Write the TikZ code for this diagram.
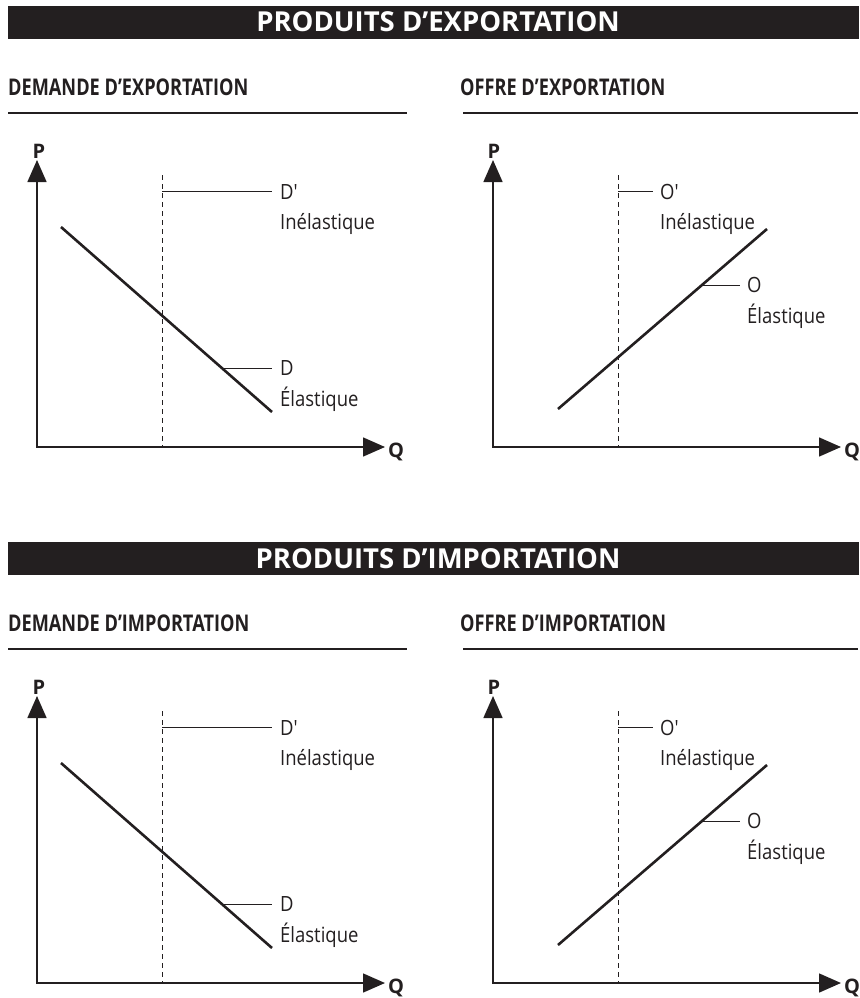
\documentclass[tikz,border=0pt]{standalone}
\usepackage{fontspec}
\setmainfont{Open Sans}
\newfontfamily\headfont[FakeStretch=0.79]{Open Sans}
\newfontfamily\labfont[Ligatures=TeXOff,FakeStretch=0.88]{Open Sans}
\usetikzlibrary{arrows.meta}
\definecolor{ink}{HTML}{231F20}
\begin{document}
\begin{tikzpicture}[x=1pt,y=-1pt,
  bar/.style={fill=ink,draw=none},
  axes/.style={draw=ink,line width=1.5pt,{Triangle[length=22pt,width=19pt]}-{Triangle[length=22pt,width=19pt]}},
  curve/.style={draw=ink,line width=2.6pt},
  lead/.style={draw=ink,line width=1pt},
  guide/.style={draw=ink,line width=1pt,dash pattern=on 5pt off 4pt},
  rule/.style={draw=ink,line width=1.5pt},
  lbl/.style={font=\labfont\fontsize{21}{23}\selectfont,text=ink,inner sep=0pt,anchor=base west},
  axl/.style={font=\bfseries\fontsize{20}{22}\selectfont,text=ink,inner sep=0pt},
  head/.style={font=\headfont\bfseries\fontsize{23}{25}\selectfont,text=ink,inner sep=0pt,anchor=base west},
  ttl/.style={font=\bfseries\fontsize{27.5}{30}\selectfont,text=white,inner sep=0pt,anchor=base}]
\useasboundingbox (0,0) rectangle (859,998);
\foreach \s/\dy/\ttl/\hl/\hr in {e/0/{PRODUITS D’EXPORTATION}/{DEMANDE D’EXPORTATION}/{OFFRE D’EXPORTATION},
                                 i/536/{PRODUITS D’IMPORTATION}/{DEMANDE D’IMPORTATION}/{OFFRE D’IMPORTATION}}{
\begin{scope}[shift={(0,\dy)}]
  % header bar
  \fill[bar] (8,6) rectangle (859,39);
  \node[ttl] (T\s) at (438,32) {\ttl};
  \node[head] (HL\s) at (8,95) {\hl};
  \node[head] (HR\s) at (460,95) {\hr};
  \draw[rule] (8,113) -- (407,113);
  \draw[rule] (463,113) -- (858,113);
  % ---- left graph (demand)
  \coordinate (LO\s) at (37,447);
  \coordinate (LY\s) at (37,160);
  \coordinate (LX\s) at (385,447);
  \draw[axes] (LY\s) -- (LO\s) -- (LX\s);
  \node[axl,anchor=base] (LP\s) at (39,158) {P};
  \node[axl,anchor=base west] (LQ\s) at (388,457) {Q};
  \coordinate (LGt\s) at (162,175);
  \coordinate (LGb\s) at (162,447);
  \draw[guide] (LGt\s) -- (LGb\s);
  \coordinate (LC1\s) at (61,227);
  \coordinate (LC2\s) at (272,412);
  \draw[curve] (LC1\s) -- (LC2\s);
  \node[lbl] (LDp\s) at (280,199) {D'};
  \node[lbl] (LIn\s) at (280,229) {Inélastique};
  \node[lbl] (LD\s) at (280,375) {D};
  \node[lbl] (LEl\s) at (280,406) {Élastique};
  \coordinate (LL1\s) at (162,191);
  \coordinate (LL1e\s) at (272,191);
  \draw[lead] (LL1\s) -- (LL1e\s);
  \coordinate (LL2\s) at (222,368);
  \coordinate (LL2e\s) at (272,368);
  \draw[lead] (LL2\s) -- (LL2e\s);
  % ---- right graph (supply)
  \coordinate (RO\s) at (493,447);
  \coordinate (RY\s) at (493,160);
  \coordinate (RX\s) at (841,447);
  \draw[axes] (RY\s) -- (RO\s) -- (RX\s);
  \node[axl,anchor=base] (RP\s) at (494,158) {P};
  \node[axl,anchor=base west] (RQ\s) at (844,457) {Q};
  \coordinate (RGt\s) at (618,175);
  \coordinate (RGb\s) at (618,447);
  \draw[guide] (RGt\s) -- (RGb\s);
  \coordinate (RC1\s) at (558,409);
  \coordinate (RC2\s) at (767,229);
  \draw[curve] (RC1\s) -- (RC2\s);
  \node[lbl] (ROp\s) at (660,199) {O'};
  \node[lbl] (RIn\s) at (660,229) {Inélastique};
  \node[lbl] (RO2\s) at (747,292) {O};
  \node[lbl] (REl\s) at (747,323) {Élastique};
  \coordinate (RL1\s) at (618,191);
  \coordinate (RL1e\s) at (653,191);
  \draw[lead] (RL1\s) -- (RL1e\s);
  \coordinate (RL2\s) at (702,285);
  \coordinate (RL2e\s) at (740,285);
  \draw[lead] (RL2\s) -- (RL2e\s);
\end{scope}
}
\end{tikzpicture}
\end{document}
